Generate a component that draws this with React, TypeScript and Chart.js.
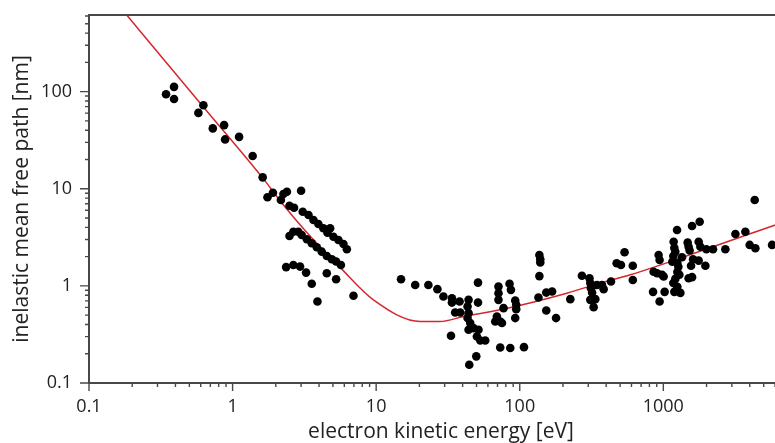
import React, { useEffect, useRef } from 'react';
import { Chart, registerables } from 'chart.js';

Chart.register(...registerables);

// measured inelastic mean free paths (energy in eV, path in nm)
const measuredEnergy = [
  0.344, 0.391, 0.391, 0.578, 0.626, 0.728, 0.873, 0.887, 1.11, 1.38, 1.62, 1.75, 1.91,
  2.17, 2.26, 2.39, 3.0,
  2.49, 2.68, 3.08, 3.38, 3.66, 3.96, 4.29, 4.78, 4.58, 5.04, 5.46, 5.92, 6.25,
  2.49, 2.65, 2.87, 3.03, 3.29, 3.56, 3.86, 4.18, 4.53, 4.91, 5.26, 5.68,
  2.36, 2.65, 2.95, 3.25, 3.56, 4.53, 5.26, 3.9, 6.95,
  14.9, 18.7, 23.1, 26.7, 29.4, 33.7, 33.7, 38.1, 44.0, 51.2, 51.2, 35.5, 38.5, 43.3, 44.0,
  43.3, 45.2, 44.0, 47.6, 51.6, 50.3, 53.1, 57.5, 33.2, 49.8, 44.5,
  71.1, 71.1, 71.1, 77.1, 67.5, 73.1, 69.3, 73.1, 85.9, 107, 84.9, 86.8, 93.0, 94.5, 94.5, 93.0, 75.2,
  137, 139, 139, 137, 135, 153, 168, 153, 179, 225, 271, 306, 310, 313, 319, 345, 374, 384,
  310, 336, 327, 432, 473, 507, 537, 613, 613,
  848, 1021, 942, 927, 942, 856, 904, 979, 1005, 1180, 1246,
  1193, 1212, 1174, 1155, 1252, 1272, 1252, 1293, 1212, 1174, 1252, 1193, 1314,
  1349, 1477, 1500, 1525, 1585, 1791, 1762, 1811, 1611, 1762, 1560, 1963, 1500, 1585,
  1995, 2219, 2704, 3177, 3727, 4329, 3993, 4375, 5718,
];
const measuredPath = [
  94, 112, 84, 60.4, 72.5, 41.8, 45.2, 32.2, 34.2, 21.7, 13.1, 8.16, 9.1,
  7.65, 8.82, 9.31, 9.53,
  6.69, 6.38, 5.8, 5.37, 4.77, 4.34, 3.92, 3.92, 3.53, 3.21, 2.97, 2.7, 2.38,
  3.26, 3.61, 3.61, 3.34, 3.02, 2.75, 2.5, 2.25, 2.03, 1.88, 1.78, 1.64,
  1.56, 1.64, 1.58, 1.37, 1.05, 1.35, 1.17, 0.69, 0.79,
  1.17, 1.02, 1.02, 0.925, 0.776, 0.747, 0.673, 0.69, 0.718, 1.08, 0.673, 0.532, 0.532, 0.613, 0.524,
  0.466, 0.414, 0.353, 0.367, 0.353, 0.301, 0.274, 0.274, 0.306, 0.188, 0.154,
  0.983, 0.841, 0.718, 0.59, 0.43, 0.43, 0.483, 0.232, 0.229, 0.234, 1.05, 0.91, 0.706, 0.638, 0.576, 0.466, 0.414,
  2.08, 1.88, 1.74, 1.26, 0.758, 0.853, 0.874, 0.557, 0.466, 0.73, 1.27, 1.2, 1.07, 0.947, 0.853, 1.02, 1.02, 0.925,
  0.718, 0.73, 0.604, 1.11, 1.71, 1.64, 2.22, 1.61, 1.15,
  0.868, 0.868, 0.69, 2.08, 1.85, 1.4, 1.35, 1.3, 1.25, 2.85, 3.76,
  2.46, 2.24, 2.03, 1.77, 1.72, 1.57, 1.39, 1.3, 1.18, 1.07, 0.977, 0.868, 0.847,
  1.97, 2.79, 2.53, 2.31, 4.14, 4.58, 2.85, 2.53, 1.88, 1.82, 1.61, 1.61, 1.2, 1.23,
  2.38, 2.38, 2.38, 3.42, 3.61, 7.65, 2.64, 2.44, 2.64,
];

// universal curve
const curveEnergy = [0.183, 0.626, 1.61, 2.26, 3.29, 5.61, 9.57, 20.3, 27.9, 40.6, 73.1, 213, 364, 589, 1910, 6030];
const curvePath = [615, 69.6, 13.1, 6.8, 3.55, 1.55, 0.718, 0.43, 0.43, 0.483, 0.567, 0.841, 1.07, 1.3, 2.34, 4.24];

const xTickLabels = ['0.1', '1', '10', '100', '1000'];
const yTickLabels = ['0.1', '1', '10', '100'];

const X_MIN = 0.1;
const X_MAX = 8000;
const Y_MIN = 0.1;
const Y_MAX = 615;

const AXIS = '#484848';
const TEXT = '#222222';
const FONT = "'Open Sans', 'DejaVu Sans', sans-serif";

function labelFor(list: string[], v: number): string {
  const hit = list.find((l) => Math.abs(Math.log10(Number(l)) - Math.log10(v)) < 1e-6);
  return hit ?? '';
}

function isPow10(v: number): boolean {
  const l = Math.log10(v);
  return Math.abs(l - Math.round(l)) < 1e-6;
}

function isDecadeStep(v: number): boolean {
  const e = Math.floor(Math.log10(v) + 1e-9);
  const s = v / Math.pow(10, e);
  return Math.abs(s - Math.round(s)) < 1e-6;
}

const axisPlugin = {
  id: 'axisTicks',
  afterDraw(chart: any) {
    const { ctx, chartArea: a, scales } = chart;
    const xs = scales.x;
    const ys = scales.y;
    ctx.save();
    ctx.strokeStyle = AXIS;
    ctx.lineWidth = 1.4;
    ctx.beginPath();
    for (const t of xs.ticks) {
      if (!isDecadeStep(t.value)) continue;
      const p = xs.getPixelForValue(t.value);
      const len = isPow10(t.value) ? 8 : 4;
      ctx.moveTo(p, a.bottom);
      ctx.lineTo(p, a.bottom + len);
    }
    for (const t of ys.ticks) {
      if (!isDecadeStep(t.value)) continue;
      const p = ys.getPixelForValue(t.value);
      const len = isPow10(t.value) ? 9 : 4;
      ctx.moveTo(a.left, p);
      ctx.lineTo(a.left - len, p);
    }
    ctx.stroke();
    ctx.lineWidth = 2;
    ctx.beginPath();
    ctx.moveTo(a.left - 1, a.top);
    ctx.lineTo(a.right, a.top);
    ctx.stroke();
    ctx.restore();
  },
};

export default function App() {
  const canvasRef = useRef<HTMLCanvasElement | null>(null);

  useEffect(() => {
    const canvas = canvasRef.current;
    if (!canvas) return;
    const points = measuredEnergy.map((e, i) => ({ x: e, y: measuredPath[i] }));
    const curve = curveEnergy.map((e, i) => ({ x: e, y: curvePath[i] }));

    const chart = new Chart(canvas, {
      type: 'scatter',
      data: {
        datasets: [
          {
            label: 'measured',
            data: points,
            pointRadius: 4.3,
            pointHoverRadius: 4.3,
            pointBackgroundColor: '#000000',
            pointBorderColor: '#000000',
            pointBorderWidth: 0,
            showLine: false,
          },
          {
            label: 'universal curve',
            data: curve,
            showLine: true,
            pointRadius: 0,
            borderColor: '#d6262c',
            borderWidth: 1.5,
            cubicInterpolationMode: 'monotone',
            fill: false,
          },
        ],
      },
      options: {
        responsive: false,
        animation: false,
        events: [],
        layout: { autoPadding: false, padding: { top: 15, left: 0, right: 0, bottom: 0 } },
        plugins: {
          legend: { display: false },
          tooltip: { enabled: false },
          title: { display: false },
        },
        scales: {
          x: {
            type: 'logarithmic',
            position: 'bottom',
            min: X_MIN,
            max: X_MAX,
            grid: { display: false, drawTicks: false, tickLength: 0 },
            border: { display: true, color: AXIS, width: 2 },
            ticks: {
              autoSkip: false,
              maxRotation: 0,
              minRotation: 0,
              padding: 13,
              color: TEXT,
              font: { family: FONT, size: 18 },
              callback: (v: any) => labelFor(xTickLabels, Number(v)),
            },
            title: {
              display: true,
              text: 'electron kinetic energy [eV]',
              color: TEXT,
              font: { family: FONT, size: 21 },
              padding: { top: 0, bottom: 10 },
            },
            afterFit: (scale: any) => {
              scale.height = 72;
              scale.paddingLeft = 0;
              scale.paddingRight = 0;
            },
          },
          y: {
            type: 'logarithmic',
            position: 'left',
            min: Y_MIN,
            max: Y_MAX,
            grid: { display: false, drawTicks: false, tickLength: 0 },
            border: { display: true, color: AXIS, width: 2 },
            ticks: {
              autoSkip: false,
              padding: 17,
              color: TEXT,
              font: { family: FONT, size: 18 },
              callback: (v: any) => labelFor(yTickLabels, Number(v)),
            },
            title: {
              display: true,
              text: 'inelastic mean free path [nm]',
              color: TEXT,
              font: { family: FONT, size: 21 },
              padding: { top: 9.5, bottom: 0 },
            },
            afterFit: (scale: any) => {
              scale.width = 89;
              scale.paddingTop = 0;
              scale.paddingBottom = 0;
            },
          },
        },
      },
      plugins: [axisPlugin],
    });

    return () => {
      chart.destroy();
    };
  }, []);

  return (
    <div
      style={{
        position: 'absolute',
        left: 0,
        top: 0,
        width: 775,
        height: 443,
        overflow: 'hidden',
        background: '#ffffff',
      }}
    >
      <canvas ref={canvasRef} width={793} height={455} style={{ display: 'block' }} />
    </div>
  );
}
